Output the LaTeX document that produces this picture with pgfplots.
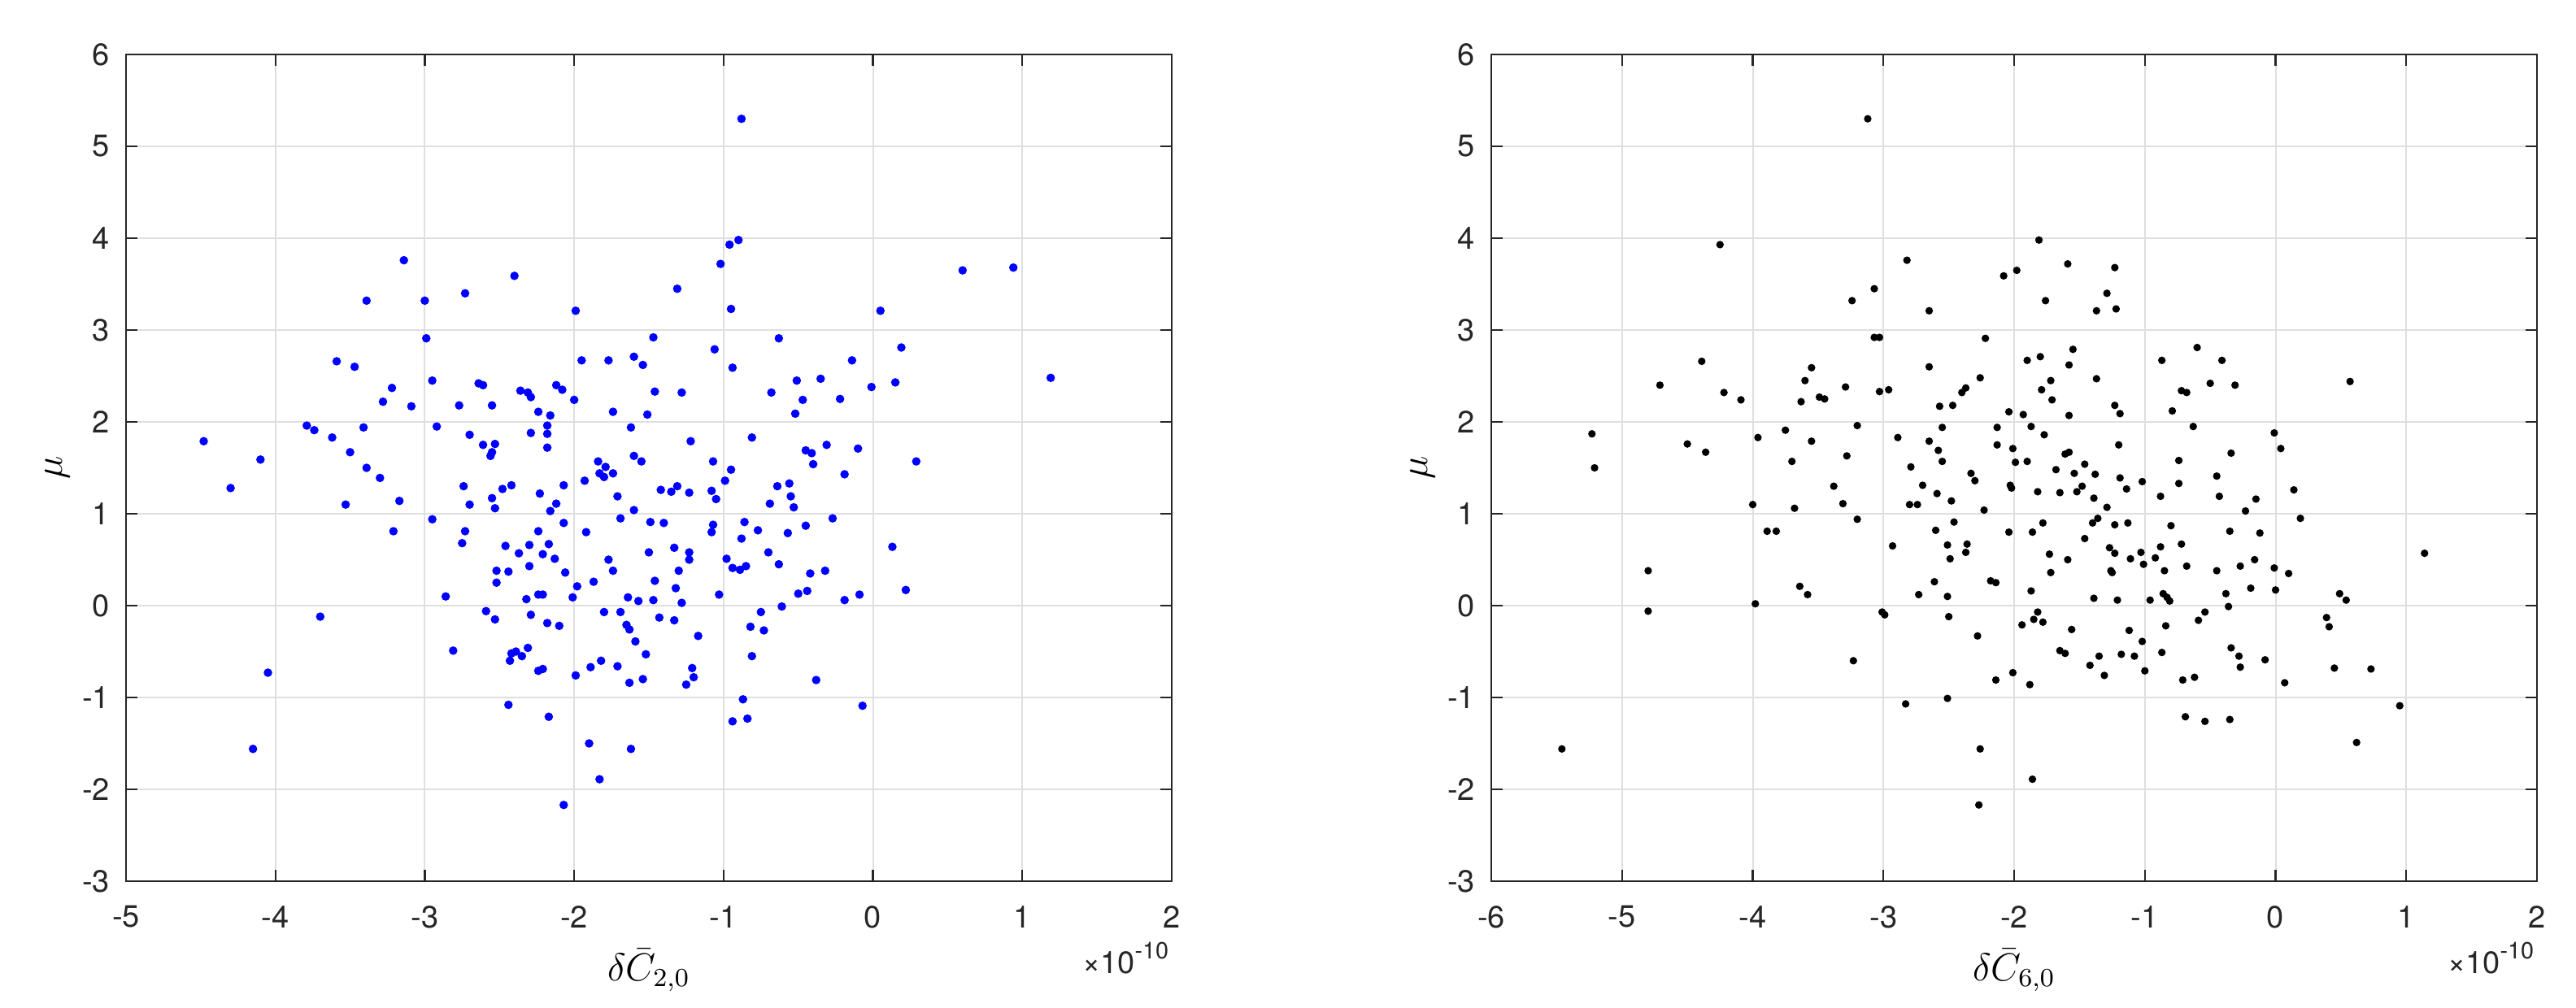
\documentclass[border=0pt]{standalone}
\usepackage[no-math]{fontspec}
\setmainfont{TeX Gyre Heros}
\usepackage{pgfplots}
\pgfplotsset{compat=1.18}

\definecolor{axgray}{HTML}{262626}
\definecolor{gridgray}{HTML}{DFDFDF}

\newcommand{\tenexp}{×10\raisebox{4.5pt}{\fontsize{7.2}{8}\selectfont -10}}

\pgfplotsset{
  mlpanel/.style={
    scale only axis,
    width=321.5pt, height=254.25pt,
    ymin=-3, ymax=6, ytick={-3,...,6},
    grid=major,
    grid style={gridgray, line width=0.5pt},
    axis line style={axgray, line width=0.6pt},
    tick style={axgray, line width=0.6pt},
    major tick length=3.5pt,
    tick align=inside,
    tick label style={font=\fontsize{9.5}{11}\selectfont, text=axgray},
    /pgf/number format/assume math mode=true,
    xticklabel style={yshift=-4pt},
    yticklabel style={xshift=-1.5pt},
    xlabel style={at={(axis description cs:0.5,-0.108)}, anchor=center, font=\fontsize{12}{14}\selectfont},
    ylabel style={at={(axis description cs:-0.0653,0.5)}, anchor=center, font=\fontsize{12.5}{14}\selectfont},
    ylabel={$\mu$},
  },
}

\begin{document}
\begin{tikzpicture}
\useasboundingbox (-38.75pt,-39pt) rectangle (753.25pt,271pt);

% left panel: delta C_{2,0}
\begin{axis}[mlpanel, name=left, at={(0pt,0pt)}, anchor=south west,
  xmin=-5, xmax=2, xtick={-5,...,2},
  xlabel={$\delta\bar{C}_{2,0}$}]
\addplot[only marks, mark=*, mark size=1.1pt, blue, mark options={draw=blue, fill=blue}] coordinates {
(-3.14,3.76) (-2.40,3.59) (-3.39,3.32) (-3.00,3.32) (-2.73,3.40) (-1.99,3.21)
(-2.99,2.91) (-3.59,2.66) (-3.47,2.60) (-1.95,2.67) (-1.77,2.67) (-1.60,2.71)
(-1.54,2.62) (-2.95,2.45) (-3.22,2.37) (-2.64,2.42) (-2.61,2.40) (-3.28,2.22)
(-3.09,2.17) (-2.77,2.18) (-2.55,2.18) (-2.36,2.34) (-2.31,2.32) (-2.29,2.27)
(-2.12,2.40) (-2.08,2.35) (-2.00,2.24) (-2.24,2.11) (-2.16,2.07) (-1.74,2.11)
(-1.51,2.08) (-3.79,1.96) (-3.74,1.91) (-3.41,1.94) (-2.92,1.95) (-2.70,1.86)
(-2.18,1.96) (-2.18,1.87) (-2.29,1.88) (-1.62,1.94) (-4.48,1.79) (-3.62,1.83)
(-3.50,1.67) (-2.61,1.75) (-2.53,1.76) (-2.55,1.67) (-2.56,1.63) (-2.18,1.72)
(-1.60,1.63) (-4.10,1.59) (-1.84,1.57) (-1.55,1.57)
(-1.79,1.51) (-3.39,1.50) (-3.30,1.39) (-1.83,1.44) (-1.80,1.40) (-1.74,1.44)
(-4.30,1.28) (-1.93,1.36) (-2.74,1.30) (-2.42,1.31) (-2.48,1.27) (-2.07,1.31)
(-2.23,1.22) (-1.71,1.19) (-3.53,1.10) (-3.17,1.14) (-2.70,1.10) (-2.55,1.17)
(-2.53,1.06) (-2.12,1.11) (-2.16,1.03) (-1.60,1.04) (-2.95,0.94) (-3.21,0.81)
(-2.73,0.81) (-2.75,0.68) (-2.24,0.81) (-2.07,0.90) (-1.92,0.80) (-1.69,0.95)
(-1.49,0.91) (-2.46,0.65) (-2.30,0.66) (-2.17,0.67) (-2.37,0.57) (-2.21,0.56)
(-2.13,0.51) (-1.50,0.58) (-1.77,0.50) (-2.30,0.43) (-2.52,0.38) (-2.44,0.37)
(-2.06,0.36) (-1.74,0.38) (-2.52,0.25) (-1.87,0.26) (-1.98,0.21) (-2.86,0.10)
(-2.24,0.12) (-2.21,0.12) (-2.32,0.07) (-2.01,0.09) (-1.64,0.09) (-1.57,0.05)
(-3.70,-0.12) (-2.59,-0.06) (-2.53,-0.15) (-2.29,-0.10) (-2.18,-0.19) (-2.10,-0.22)
(-1.80,-0.07) (-1.69,-0.07) (-1.65,-0.21) (-1.63,-0.26) (-1.59,-0.39) (-1.52,-0.53)
(-2.81,-0.49) (-2.42,-0.52) (-2.39,-0.50) (-2.35,-0.55) (-2.43,-0.60) (-2.31,-0.46)
(-2.24,-0.71) (-2.21,-0.69) (-1.99,-0.76) (-1.89,-0.67) (-1.82,-0.60) (-1.71,-0.66)
(-1.63,-0.84) (-1.54,-0.80) (-4.05,-0.73) (-2.44,-1.08) (-2.17,-1.21) (-1.90,-1.50)
(-1.62,-1.56) (-4.15,-1.56) (-1.83,-1.89) (-2.07,-2.17)
(-0.88,5.30) (-0.90,3.98) (-0.96,3.93) (-1.02,3.72) (0.60,3.65) (0.94,3.68)
(-1.31,3.45) (-0.95,3.23) (0.05,3.21) (-1.47,2.92) (-0.63,2.91) (-1.06,2.79)
(0.19,2.81) (-0.14,2.67) (-0.94,2.59) (1.19,2.48) (-0.51,2.45) (-0.35,2.47)
(-0.01,2.38) (0.15,2.43) (-1.46,2.33) (-1.28,2.32) (-0.68,2.32) (-0.47,2.24)
(-0.22,2.25) (-0.52,2.09) (-1.22,1.79) (-0.81,1.83) (-0.45,1.69) (-0.41,1.66)
(-0.31,1.75) (-0.10,1.71) (-1.07,1.57) (0.29,1.57)
(-0.40,1.54) (-0.95,1.48) (-0.19,1.43) (-0.99,1.36) (-1.42,1.26) (-1.35,1.24)
(-1.31,1.30) (-1.23,1.23) (-1.08,1.25) (-1.05,1.16) (-0.64,1.30) (-0.56,1.33)
(-0.55,1.19) (-0.69,1.11) (-0.53,1.07) (-1.40,0.90) (-1.07,0.88) (-1.08,0.80)
(-0.86,0.91) (-0.77,0.82) (-0.88,0.73) (-0.57,0.79) (-0.45,0.87) (-0.27,0.95)
(0.13,0.64) (-1.33,0.63) (-1.23,0.58) (-1.23,0.50) (-0.98,0.51) (-0.94,0.41)
(-0.89,0.39) (-0.85,0.43) (-0.70,0.58) (-0.63,0.45) (-1.30,0.38) (-0.42,0.35)
(-0.32,0.38) (-1.46,0.27) (-1.32,0.19) (-1.47,0.06) (-1.28,0.03) (-1.03,0.12)
(-0.50,0.13) (-0.44,0.16) (-0.19,0.06) (-0.09,0.12) (0.22,0.17) (-0.61,-0.01)
(-1.43,-0.13) (-1.33,-0.16) (-1.17,-0.33) (-0.75,-0.07) (-0.82,-0.23) (-0.73,-0.27)
(-0.81,-0.55) (-1.21,-0.68) (-1.20,-0.78) (-1.25,-0.86) (-0.38,-0.81) (-0.87,-1.02)
(-0.07,-1.09) (-0.94,-1.26) (-0.84,-1.23)
};
\end{axis}
\node[anchor=base east, font=\fontsize{9.5}{11}\selectfont, text=axgray, inner sep=0pt,
  xshift=-0.75pt, yshift=-28.5pt] at (left.south east) {\tenexp};

% right panel: delta C_{6,0}
\begin{axis}[mlpanel, name=right, at={(419.75pt,0pt)}, anchor=south west,
  xmin=-6, xmax=2, xtick={-6,...,2},
  xlabel={$\delta\bar{C}_{6,0}$}]
\addplot[only marks, mark=*, mark size=0.95pt, black] coordinates {
(-3.12,5.30) (-4.25,3.93) (-2.82,3.76) (-3.07,3.45) (-3.24,3.32) (-2.65,3.21)
(-3.07,2.92) (-3.03,2.92) (-4.39,2.66) (-3.55,2.59) (-2.65,2.60) (-4.71,2.40)
(-3.60,2.45) (-4.22,2.32) (-4.09,2.24) (-3.63,2.22) (-3.49,2.27) (-3.45,2.25)
(-3.29,2.38) (-3.03,2.33) (-2.96,2.35) (-2.40,2.32) (-2.37,2.37) (-2.57,2.17)
(-2.47,2.18) (-5.23,1.87) (-3.96,1.83) (-3.75,1.91) (-3.20,1.96) (-2.55,1.94)
(-4.50,1.76) (-4.36,1.67) (-3.55,1.79) (-2.89,1.83) (-2.65,1.79) (-2.58,1.69)
(-3.28,1.63)
(-5.21,1.50) (-3.70,1.57) (-2.79,1.51) (-2.55,1.57) (-2.33,1.44) (-2.30,1.36)
(-3.38,1.30) (-2.70,1.31) (-2.59,1.22) (-2.48,1.14) (-4.00,1.10) (-3.68,1.06)
(-3.31,1.11) (-2.80,1.10) (-2.74,1.10) (-3.20,0.94) (-2.46,0.91) (-3.89,0.81)
(-3.82,0.81) (-2.60,0.82) (-2.93,0.65) (-2.51,0.66) (-2.36,0.67) (-2.37,0.58)
(-2.49,0.51) (-4.80,0.38) (-2.61,0.26) (-3.64,0.21) (-3.58,0.12) (-2.73,0.12)
(-2.51,0.10) (-3.98,0.02) (-4.80,-0.06) (-3.01,-0.07) (-2.99,-0.10) (-2.50,-0.12)
(-3.23,-0.60) (-2.83,-1.07) (-2.51,-1.01) (-5.46,-1.56)
(-1.81,3.98) (-1.98,3.65) (-2.08,3.59) (-1.59,3.72) (-1.23,3.68) (-1.76,3.32)
(-1.29,3.40) (-1.37,3.21) (-1.22,3.23) (-2.22,2.91) (-1.55,2.79) (-1.80,2.71)
(-1.90,2.67) (-1.58,2.62) (-0.87,2.67) (-0.60,2.81) (-0.41,2.67) (-2.26,2.48)
(-1.72,2.45) (-1.37,2.47) (0.57,2.44) (-1.79,2.35) (-1.71,2.24) (-0.72,2.34)
(-0.68,2.32) (-0.50,2.42) (-0.31,2.40) (-2.04,2.11) (-1.93,2.08) (-1.58,2.07)
(-1.23,2.18) (-1.19,2.09) (-0.79,2.12) (-2.13,1.94) (-1.87,1.95) (-1.77,1.86)
(-0.63,1.95) (-0.01,1.88) (0.04,1.71) (-2.13,1.75) (-2.01,1.71) (-1.20,1.75)
(-1.61,1.65) (-1.58,1.67) (-0.34,1.66)
(-1.99,1.56) (-1.90,1.57) (-1.46,1.54) (-0.74,1.58) (-1.68,1.48) (-1.54,1.44)
(-1.38,1.43) (-1.19,1.39) (-1.02,1.35) (-0.74,1.33) (-0.45,1.41) (-2.03,1.31)
(-2.02,1.28) (-1.82,1.24) (-1.65,1.23) (-1.52,1.24) (-1.48,1.30) (-1.14,1.27)
(-1.39,1.17) (-1.29,1.07) (-0.88,1.19) (-0.43,1.19) (-0.15,1.16) (0.14,1.26)
(-0.23,1.03) (-2.23,1.04) (0.19,0.95) (-1.78,0.90) (-2.04,0.80) (-1.86,0.80)
(-1.40,0.90) (-1.36,0.95) (-1.23,0.88) (-1.13,0.90) (-0.80,0.87) (-0.35,0.81)
(-0.12,0.79) (-1.46,0.73) (-0.88,0.64) (-0.72,0.67) (-1.27,0.63) (-1.23,0.57)
(-1.03,0.58) (1.14,0.57) (-1.73,0.56) (-1.59,0.50) (-1.11,0.51) (-0.92,0.52)
(-1.01,0.45) (-0.68,0.43) (-0.27,0.43) (-0.16,0.50) (-0.01,0.41) (0.10,0.35)
(-1.72,0.36) (-1.26,0.38) (-1.25,0.36) (-0.85,0.38) (-0.45,0.38) (-2.18,0.27)
(-2.14,0.25) (-1.87,0.16) (-0.19,0.19) (0.00,0.17) (-0.38,0.13) (-0.86,0.13)
(-0.83,0.09) (-0.81,0.05) (-1.39,0.08) (-1.21,0.06) (-0.96,0.06) (0.49,0.13)
(0.54,0.06) (-0.36,-0.01) (-1.82,-0.07) (-1.85,-0.15) (-1.78,-0.18) (-1.94,-0.21)
(-0.54,-0.07) (-0.59,-0.16) (-0.84,-0.22) (-1.56,-0.26) (-1.12,-0.27) (0.39,-0.13)
(0.41,-0.23) (-2.28,-0.33) (-1.02,-0.39) (-1.65,-0.49) (-1.61,-0.52) (-1.35,-0.55)
(-1.18,-0.53) (-1.08,-0.55) (-0.87,-0.51) (-0.34,-0.46) (-0.28,-0.55) (-0.27,-0.67)
(-0.08,-0.59) (-1.42,-0.65) (-1.31,-0.76) (-1.00,-0.71) (-2.01,-0.73) (-2.14,-0.81)
(-1.88,-0.86) (-0.71,-0.81) (-0.62,-0.78) (0.07,-0.84) (0.45,-0.68) (0.73,-0.69)
(0.95,-1.09) (-0.69,-1.21) (-0.54,-1.26) (-0.35,-1.24) (0.62,-1.49) (-2.26,-1.56)
(-1.86,-1.89) (-2.27,-2.17)
};
\end{axis}
\node[anchor=base east, font=\fontsize{9.5}{11}\selectfont, text=axgray, inner sep=0pt,
  xshift=-0.75pt, yshift=-28.5pt] at (right.south east) {\tenexp};
\end{tikzpicture}
\end{document}
